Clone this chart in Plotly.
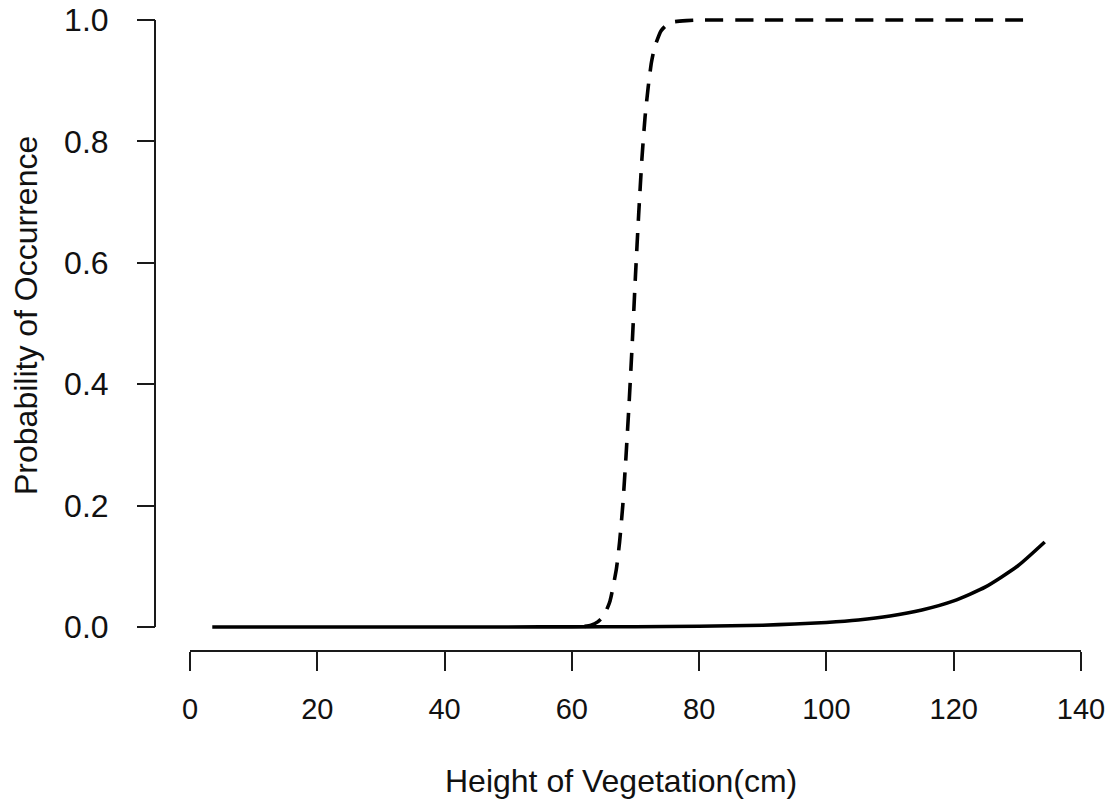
import plotly.graph_objects as go

# Solid curve: probability of occurrence vs vegetation height
x_solid = [3.5, 10, 20, 30, 40, 50, 60, 70, 80, 85, 90, 95, 100, 105, 110, 115, 120, 125, 130, 134.3]
p_solid = [0, 0, 0, 0, 0, 0.0001, 0.0002, 0.0005, 0.0012, 0.002, 0.003, 0.005, 0.0075, 0.0115,
           0.018, 0.028, 0.043, 0.066, 0.10, 0.14]

# Dashed curve
x_dash = [62, 63, 64, 65, 66, 67, 67.5, 68, 68.5, 69, 69.5, 70, 70.5, 71, 71.5, 72, 72.5, 73,
          74, 75, 76, 78, 80, 90, 100, 110, 120, 132.8]
p_dash = [0.001, 0.003, 0.008, 0.018, 0.043, 0.096, 0.14, 0.20, 0.28, 0.37, 0.47, 0.58, 0.68,
          0.77, 0.84, 0.89, 0.93, 0.955, 0.982, 0.993, 0.997, 0.999, 1.0, 1.0, 1.0, 1.0, 1.0, 1.0]

x_ticks = [0, 20, 40, 60, 80, 100, 120, 140]
y_ticks = [0.0, 0.2, 0.4, 0.6, 0.8, 1.0]
y_ticktext = ["0.0", "0.2", "0.4", "0.6", "0.8", "1.0"]

x_title = "Height of Vegetation(cm)"
y_title = "Probability of Occurrence"

W, H = 1110, 803
FONT = "Liberation Sans, Arial, sans-serif"
AX = "#1a1a1a"

fig = go.Figure()
fig.add_trace(go.Scatter(x=x_solid, y=p_solid, mode="lines",
                         line=dict(color="black", width=3.6, shape="spline", smoothing=0.6)))
fig.add_trace(go.Scatter(x=x_dash, y=p_dash, mode="lines",
                         line=dict(color="black", width=3.6, dash="18px,12px",
                                   shape="spline", smoothing=0.5)))

fig.update_layout(
    template="none",
    width=W, height=H, autosize=False,
    margin=dict(l=0, r=0, t=0, b=0, pad=0),
    paper_bgcolor="white", plot_bgcolor="white",
    showlegend=False,
    font=dict(family=FONT, color="#111"),
    xaxis=dict(domain=[190 / W, 1081 / W], range=[0, 140], anchor="free", automargin=False,
               position=(H - 651) / H, showline=True, linecolor=AX, linewidth=2,
               ticks="outside", ticklen=19, tickwidth=2, tickcolor=AX,
               tickvals=x_ticks, showgrid=False, zeroline=False,
               tickfont=dict(size=29, family=FONT, color="#111"), ticklabelstandoff=13),
    yaxis=dict(domain=[(H - 645.21) / H, (H - 1.79) / H], range=[-0.03, 1.03], anchor="free",
               automargin=False, position=155 / W, showline=False,
               ticks="outside", ticklen=18, tickwidth=2, tickcolor=AX,
               tickvals=y_ticks, ticktext=y_ticktext, showgrid=False, zeroline=False,
               tickfont=dict(size=32, family=FONT, color="#111"), ticklabelstandoff=22),
    shapes=[dict(type="line", xref="paper", yref="y", x0=155 / W, x1=155 / W, y0=0, y1=1,
                 line=dict(color=AX, width=2))],
    annotations=[
        dict(text=x_title, xref="paper", yref="paper", x=621 / W, y=(H - 781) / H,
             xanchor="center", yanchor="middle", showarrow=False,
             font=dict(size=32, family=FONT, color="#111")),
        dict(text=y_title, xref="paper", yref="paper", x=26 / W, y=(H - 316) / H,
             xanchor="center", yanchor="middle", textangle=-90, showarrow=False,
             font=dict(size=32, family=FONT, color="#111")),
    ],
)

post = (
    "document.documentElement.style.margin='0';"
    "document.body.style.margin='0';document.body.style.padding='0';"
    "document.body.style.overflow='hidden';"
)

fig.write_html(
    "out.html",
    config={"responsive": False, "displayModeBar": False},
    post_script=post,
)
